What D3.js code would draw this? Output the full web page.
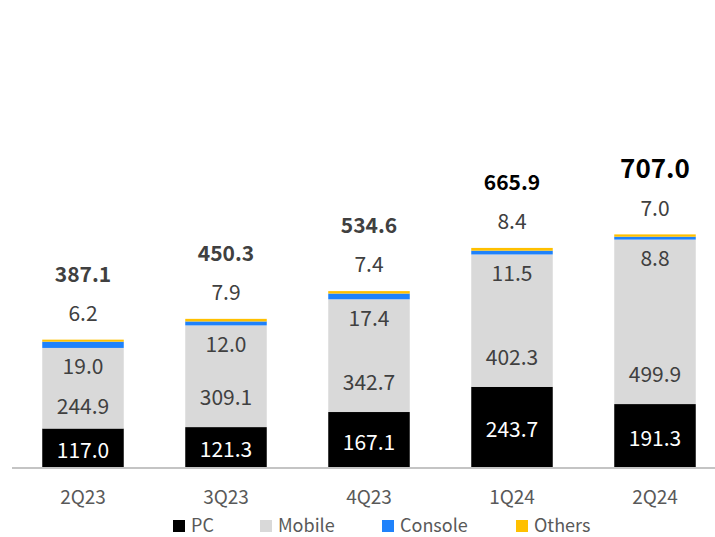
<!DOCTYPE html>
<html>
<head>
<meta charset="utf-8">
<script src="https://cdn.jsdelivr.net/npm/d3@7"></script>
<style>
  body { margin: 0; background: #fff; }
  svg { display: block; font-family: "Noto Sans CJK KR", "Noto Sans", sans-serif; }
</style>
</head>
<body>
<div id="chart"></div>
<script>
const quarters = ['2Q23', '3Q23', '4Q23', '1Q24', '2Q24'];
const pcValues = [117.0, 121.3, 167.1, 243.7, 191.3];
const mobileValues = [244.9, 309.1, 342.7, 402.3, 499.9];
const consoleValues = [19.0, 12.0, 17.4, 11.5, 8.8];
const othersValues = [6.2, 7.9, 7.4, 8.4, 7.0];
const totals = [387.1, 450.3, 534.6, 665.9, 707.0];

const seriesNames = ['PC', 'Mobile', 'Console', 'Others'];
const colors = { PC: '#000000', Mobile: '#d9d9d9', Console: '#1f82fb', Others: '#ffc000' };

const width = 715, height = 537;
const baseY = 467;

const svg = d3.select('#chart').append('svg')
    .attr('width', width).attr('height', height);

const x = d3.scaleBand().domain(quarters)
    .range([11.5, 726.5]).paddingInner(0.43).paddingOuter(0.215);
const y = d3.scaleLinear().domain([0, 1000]).range([baseY, baseY - 329]);

// rows for the stack
const rows = quarters.map((q, i) => ({
  q: q,
  PC: pcValues[i],
  Mobile: mobileValues[i],
  Console: consoleValues[i],
  Others: othersValues[i],
  total: totals[i]
}));

const stacked = d3.stack().keys(seriesNames)(rows);

svg.append('g').selectAll('g')
  .data(stacked)
  .join('g')
    .attr('fill', d => colors[d.key])
  .selectAll('rect')
  .data(d => d)
  .join('rect')
    .attr('x', d => x(d.data.q))
    .attr('width', x.bandwidth())
    .attr('y', d => y(d[1]))
    .attr('height', d => y(d[0]) - y(d[1]));

// baseline
svg.append('line')
    .attr('x1', 12).attr('x2', width)
    .attr('y1', baseY + 1).attr('y2', baseY + 1)
    .attr('stroke', '#c4c4c4').attr('stroke-width', 2);

const labels = svg.append('g').attr('text-anchor', 'middle');
const cx = d => x(d.q) + x.bandwidth() / 2;
const topOf = d => y(d.PC + d.Mobile + d.Console + d.Others);

// PC labels (white on black)
labels.selectAll('.pc').data(rows).join('text')
    .attr('x', cx)
    .attr('y', d => (y(0) + y(d.PC)) / 2 + 3)
    .attr('dy', '0.35em')
    .attr('fill', '#fff').attr('font-size', 21)
    .text(d => d.PC.toFixed(1));

// Mobile labels
labels.selectAll('.mob').data(rows).join('text')
    .attr('x', cx)
    .attr('y', (d, i) => y(d.PC) - (i === 0 ? 22 : 29))
    .attr('dy', '0.35em')
    .attr('fill', '#404040').attr('font-size', 21)
    .text(d => d.Mobile.toFixed(1));

// Console labels, inside mobile just under the top
labels.selectAll('.con').data(rows).join('text')
    .attr('x', cx)
    .attr('y', d => y(d.PC + d.Mobile) + 19)
    .attr('dy', '0.35em')
    .attr('fill', '#404040').attr('font-size', 21)
    .text(d => d.Console.toFixed(1));

// Others labels above bar
labels.selectAll('.oth').data(rows).join('text')
    .attr('x', cx)
    .attr('y', d => topOf(d) - 26)
    .attr('dy', '0.35em')
    .attr('fill', '#404040').attr('font-size', 21)
    .text(d => d.Others.toFixed(1));

// totals
labels.selectAll('.tot').data(rows).join('text')
    .attr('x', cx)
    .attr('y', d => topOf(d) - 65)
    .attr('dy', '0.35em')
    .attr('fill', (d, i) => i < 3 ? '#404040' : '#000')
    .attr('font-weight', 'bold')
    .attr('font-size', (d, i) => i === 4 ? 26 : 21)
    .text(d => d.total.toFixed(1));

// category axis labels
labels.selectAll('.cat').data(rows).join('text')
    .attr('x', cx)
    .attr('y', 497)
    .attr('dy', '0.35em')
    .attr('fill', '#595959').attr('font-size', 19)
    .text(d => d.q);

// legend
const legendX = [173, 260, 382, 516];
const legend = svg.append('g').selectAll('g')
  .data(seriesNames)
  .join('g')
    .attr('transform', (d, i) => `translate(${legendX[i]},526)`);
legend.append('rect')
    .attr('x', 0).attr('y', -6).attr('width', 12).attr('height', 12)
    .attr('fill', d => colors[d]);
legend.append('text')
    .attr('x', 18).attr('y', 0)
    .attr('dy', '0.35em')
    .attr('fill', '#595959').attr('font-size', 18)
    .text(d => d);
</script>
</body>
</html>
